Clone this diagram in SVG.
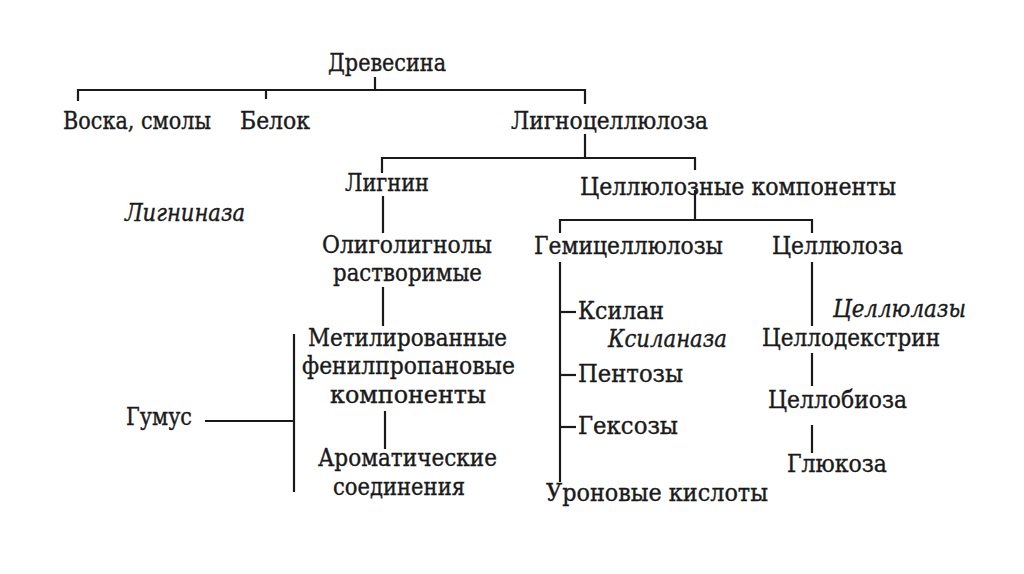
<svg xmlns="http://www.w3.org/2000/svg" width="1024" height="574" viewBox="0 0 1024 574">
<style>
text{font-family:"DejaVu Serif Condensed","DejaVu Serif","Liberation Serif",serif;font-stretch:condensed;font-size:24px;fill:#1a1a1a;stroke:#1a1a1a;stroke-width:0.35}
.i{font-style:italic}
.c line{stroke:#1a1a1a;stroke-width:2.2;fill:none}
</style>
<rect width="1024" height="574" fill="#ffffff"/>
<g class="c" id="connectors">
<line x1="375" y1="77" x2="375" y2="90"/>
<line x1="78" y1="90" x2="586" y2="90"/>
<line x1="78" y1="89" x2="78" y2="101"/>
<line x1="266" y1="89" x2="266" y2="99"/>
<line x1="585" y1="89" x2="585" y2="104"/>
<line x1="585" y1="134" x2="585" y2="158"/>
<line x1="382" y1="158" x2="695" y2="158"/>
<line x1="382" y1="157" x2="382" y2="173"/>
<line x1="695" y1="157" x2="695" y2="170"/>
<line x1="383" y1="196" x2="383" y2="233"/>
<line x1="695" y1="190" x2="695" y2="220"/>
<line x1="560" y1="220" x2="813" y2="220"/>
<line x1="560" y1="219" x2="560" y2="233"/>
<line x1="812" y1="219" x2="812" y2="233"/>
<line x1="383" y1="287" x2="383" y2="326"/>
<line x1="560" y1="262" x2="560" y2="482"/>
<line x1="560" y1="312" x2="576" y2="312"/>
<line x1="560" y1="375" x2="576" y2="375"/>
<line x1="560" y1="427" x2="576" y2="427"/>
<line x1="812" y1="262" x2="812" y2="326"/>
<line x1="812" y1="353" x2="812" y2="386"/>
<line x1="812" y1="425" x2="812" y2="453"/>
<line x1="294" y1="334" x2="294" y2="492"/>
<line x1="205" y1="421" x2="294" y2="421"/>
<line x1="385" y1="411" x2="385" y2="449"/>
</g>
<g id="drevesina"><text x="328" y="71" textLength="118" lengthAdjust="spacingAndGlyphs">Древесина</text></g>
<g id="voska"><text x="63" y="129" textLength="148" lengthAdjust="spacingAndGlyphs">Воска, смолы</text></g>
<g id="belok"><text x="240" y="129" textLength="70" lengthAdjust="spacingAndGlyphs">Белок</text></g>
<g id="lignocellulose"><text x="511" y="129" textLength="197" lengthAdjust="spacingAndGlyphs">Лигноцеллюлоза</text></g>
<g id="lignin"><text x="345" y="191" textLength="84" lengthAdjust="spacingAndGlyphs">Лигнин</text></g>
<g id="ligninase"><text class="i" x="125" y="221" textLength="120" lengthAdjust="spacingAndGlyphs">Лигниназа</text></g>
<g id="cellcomp"><text x="580" y="195" textLength="316" lengthAdjust="spacingAndGlyphs">Целлюлозные компоненты</text></g>
<g id="oligo"><text x="322" y="253" textLength="170" lengthAdjust="spacingAndGlyphs">Олиголигнолы</text><text x="333" y="281" textLength="149" lengthAdjust="spacingAndGlyphs">растворимые</text></g>
<g id="hemi"><text x="534" y="254" textLength="189" lengthAdjust="spacingAndGlyphs">Гемицеллюлозы</text></g>
<g id="cellulose"><text x="772" y="254" textLength="131" lengthAdjust="spacingAndGlyphs">Целлюлоза</text></g>
<g id="xylan"><text x="578" y="319" textLength="86" lengthAdjust="spacingAndGlyphs">Ксилан</text></g>
<g id="xylanase"><text class="i" x="608" y="347" textLength="119" lengthAdjust="spacingAndGlyphs">Ксиланаза</text></g>
<g id="pentoses"><text x="578" y="382" textLength="105" lengthAdjust="spacingAndGlyphs">Пентозы</text></g>
<g id="hexoses"><text x="578" y="434" textLength="100" lengthAdjust="spacingAndGlyphs">Гексозы</text></g>
<g id="uronic"><text x="546" y="501" textLength="222" lengthAdjust="spacingAndGlyphs">Уроновые кислоты</text></g>
<g id="cellulases"><text class="i" x="833" y="317" textLength="133" lengthAdjust="spacingAndGlyphs">Целлюлазы</text></g>
<g id="cellodextrin"><text x="762" y="346" textLength="178" lengthAdjust="spacingAndGlyphs">Целлодекстрин</text></g>
<g id="cellobiose"><text x="768" y="408" textLength="139" lengthAdjust="spacingAndGlyphs">Целлобиоза</text></g>
<g id="glucose"><text x="787" y="472" textLength="100" lengthAdjust="spacingAndGlyphs">Глюкоза</text></g>
<g id="methyl"><text x="308" y="346" textLength="199" lengthAdjust="spacingAndGlyphs">Метилированные</text><text x="302" y="374" textLength="213" lengthAdjust="spacingAndGlyphs">фенилпропановые</text><text x="330" y="403" textLength="156" lengthAdjust="spacingAndGlyphs">компоненты</text></g>
<g id="humus"><text x="126" y="425" textLength="66" lengthAdjust="spacingAndGlyphs">Гумус</text></g>
<g id="aromatic"><text x="318" y="466" textLength="179" lengthAdjust="spacingAndGlyphs">Ароматические</text><text x="333" y="495" textLength="132" lengthAdjust="spacingAndGlyphs">соединения</text></g>
</svg>
